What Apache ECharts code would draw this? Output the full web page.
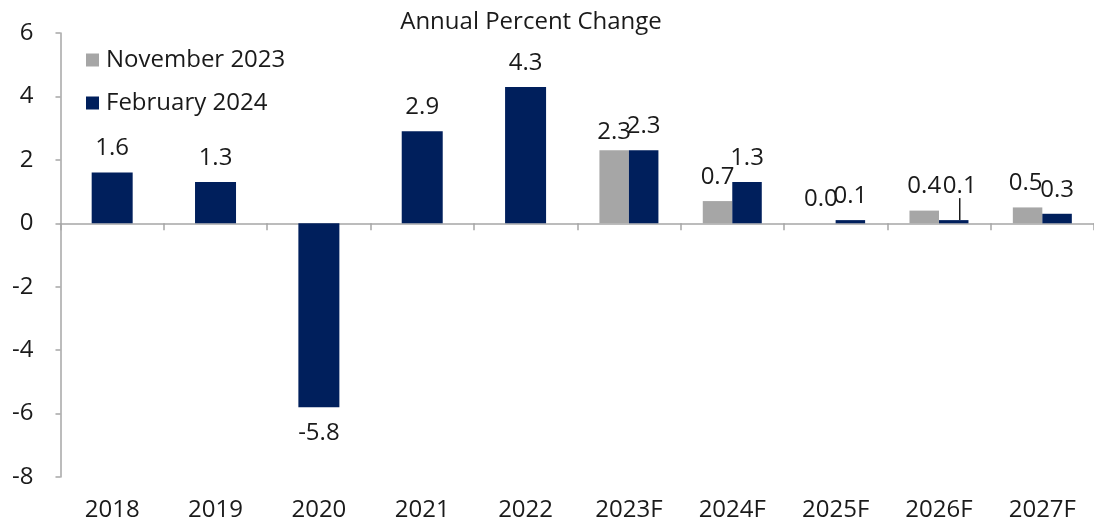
<!DOCTYPE html>
<html>
<head>
<meta charset="utf-8">
<script src="https://cdn.jsdelivr.net/npm/echarts@6/dist/echarts.min.js"></script>
<style>
  html, body { margin: 0; padding: 0; background: #fff; }
  #chart { width: 1094px; height: 523px; }
</style>
</head>
<body>
<div id="chart"></div>
<script>
// data
const categories = ['2018', '2019', '2020', '2021', '2022', '2023F', '2024F', '2025F', '2026F', '2027F']
const history = [1.6, 1.3, -5.8, 2.9, 4.3, null, null, null, null, null]
const nov2023 = [null, null, null, null, null, 2.3, 0.7, 0.0, 0.4, 0.5]
const feb2024 = [null, null, null, null, null, 2.3, 1.3, 0.1, 0.1, 0.3]
const yTicks = [-8, -6, -4, -2, 0, 2, 4, 6]

const GRAY = '#a6a6a6'
const NAVY = '#001f5c'
const FONT = 'Open Sans'

// label nudges, the original has a few hand placed ones
const novOffsets = { 5: [0, 6], 9: [-2, 0] }
const febOffsets = { 5: [13, 6], 7: [6, 2], 9: [1, -1] }
const leaderIdx = 8 // 2026F navy label sits higher with a little leader line

const fmt = (p) => p.value == null ? '' : Number(p.value).toFixed(1)

const buildData = (vals, offsets) => vals.map((v, i) => {
    if (v == null) return null
    const off = offsets[i]
    if (!off) return v
    return { value: v, label: { offset: off } }
})

const dom = document.getElementById('chart')
const myChart = echarts.init(dom, null, { renderer: 'canvas' })

const labelStyle = {
    show: true,
    position: 'top',
    distance: 12,
    color: '#1a1a1a',
    fontFamily: FONT,
    fontSize: 24,
    formatter: fmt
}

const febData = buildData(feb2024, febOffsets).map((d, i) => {
    if (i !== leaderIdx || d == null) return d
    return { value: d, labelLine: { show: true } }
})

const option = {
    animation: false,
    textStyle: { fontFamily: FONT },
    title: {
        text: 'Annual Percent Change',
        left: 526,
        textAlign: 'center',
        top: 5,
        textStyle: { fontFamily: FONT, fontSize: 24, fontWeight: 'normal', color: '#1a1a1a' }
    },
    legend: {
        orient: 'vertical',
        left: 81,
        top: 43,
        itemWidth: 13,
        itemHeight: 13,
        itemGap: 19,
        icon: 'rect',
        data: ['November 2023', 'February 2024'],
        textStyle: { fontFamily: FONT, fontSize: 24, color: '#1a1a1a', padding: [0, 0, 0, 2] }
    },
    grid: { left: 60.5, top: 33, width: 1043, height: 444 },
    xAxis: [
        {
            type: 'category',
            data: categories,
            axisLine: { onZero: true, lineStyle: { color: '#a6a6a6', width: 1.5 } },
            axisTick: { show: true, length: 7, lineStyle: { color: '#a6a6a6', width: 1.5 } },
            axisLabel: { show: false }
        },
        {
            type: 'category',
            data: categories,
            position: 'bottom',
            axisLine: { show: false, onZero: false },
            axisTick: { show: false },
            axisLabel: { show: true, margin: 21, color: '#1a1a1a', fontFamily: FONT, fontSize: 24 }
        }
    ],
    yAxis: {
        type: 'value',
        min: yTicks[0],
        max: yTicks[yTicks.length - 1],
        interval: 2,
        axisLine: { show: true, lineStyle: { color: '#a6a6a6', width: 1.5 } },
        axisTick: { show: true, length: 5, lineStyle: { color: '#a6a6a6', width: 1.5 } },
        splitLine: { show: false },
        axisLabel: { margin: 27, color: '#1a1a1a', fontFamily: FONT, fontSize: 24 }
    },
    series: [
        {
            name: 'February 2024',
            type: 'bar',
            xAxisIndex: 1,
            barWidth: 41,
            itemStyle: { color: NAVY },
            data: history.map(v => v == null ? null : (v < 0 ? { value: v, label: { position: 'bottom', distance: 14 } } : v)),
            label: labelStyle
        },
        {
            name: 'November 2023',
            type: 'bar',
            xAxisIndex: 0,
            barWidth: 29.5,
            barGap: '0%',
            itemStyle: { color: GRAY },
            data: buildData(nov2023, novOffsets),
            label: labelStyle
        },
        {
            name: 'February 2024',
            type: 'bar',
            xAxisIndex: 0,
            barWidth: 29.5,
            barGap: '0%',
            itemStyle: { color: NAVY },
            data: febData,
            label: labelStyle,
            labelLine: { show: false, lineStyle: { color: '#1a1a1a', width: 1.5 } },
            labelLayout: (params) => {
                if (params.dataIndex === leaderIdx) return { dx: 6, dy: -10 }
                return {}
            }
        }
    ]
}

myChart.setOption(option)
</script>
</body>
</html>
